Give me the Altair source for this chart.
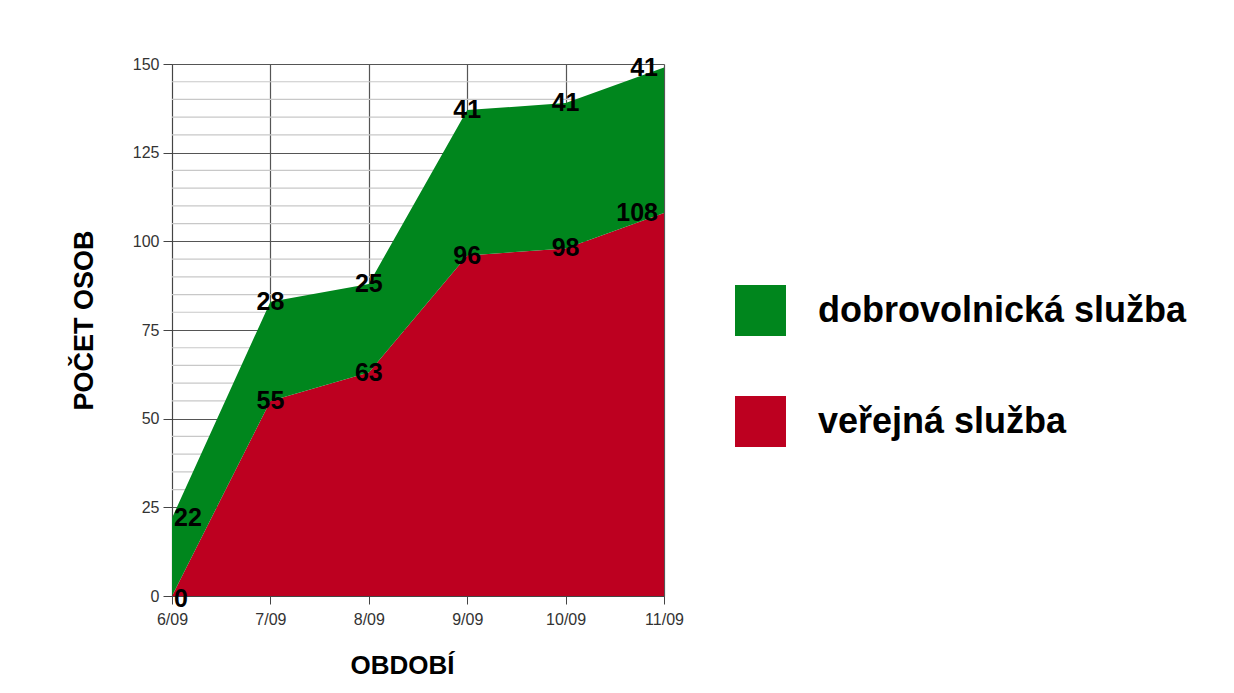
import altair as alt
import pandas as pd

periods = ["6/09", "7/09", "8/09", "9/09", "10/09", "11/09"]
verejna = [0, 55, 63, 96, 98, 108]
dobrovolnicka = [22, 28, 25, 41, 41, 41]
series_names = ["dobrovolnická služba", "veřejná služba"]
series_colors = ["#00861d", "#bd0020"]
y_major = [0, 25, 50, 75, 100, 125, 150]
y_minor = [v for v in range(0, 151, 5) if v % 25 != 0]

rows = []
for i, p in enumerate(periods):
    rows.append(dict(period=p, series="veřejná služba", low=0, high=verejna[i],
                     value=verejna[i], idx=i))
    rows.append(dict(period=p, series="dobrovolnická služba", low=verejna[i],
                     high=verejna[i] + dobrovolnicka[i], value=dobrovolnicka[i], idx=i))
df = pd.DataFrame(rows)
minor_df = pd.DataFrame({"v": y_minor})

FONT = "Liberation Sans"

x_axis = alt.Axis(
    title="OBDOBÍ", labelAngle=0, labelFontSize=16, labelColor="#333333",
    labelFont=FONT, labelPadding=7, tickSize=8, tickColor="#444444",
    domainColor="#444444", gridColor="#555555", gridWidth=1.2, grid=True,
    titleFont=FONT, titleFontSize=26, titleFontWeight="bold", titleColor="#000000",
    titleX=230, titleY=77, titleBaseline="alphabetic", titleAlign="center",
)
y_axis = alt.Axis(
    values=y_major, title="POČET OSOB", labelFontSize=16, labelColor="#333333",
    labelFont=FONT, labelPadding=4, tickSize=9, tickColor="#444444",
    domainColor="#444444", gridColor="#555555", gridWidth=1.2, grid=True,
    titleFont=FONT, titleFontSize=27, titleFontWeight="bold", titleColor="#000000",
    titleX=-80, titleY=256, titleBaseline="alphabetic", titleAlign="center",
    titleAngle=-90,
)
x_scale = alt.Scale(type="point", padding=0)
y_scale = alt.Scale(domain=[0, 150], nice=False)

minor = alt.Chart(minor_df).mark_rule(color="#c8c8c8", strokeWidth=1.2).encode(
    y=alt.Y("v:Q", scale=y_scale, axis=y_axis),
)

area = alt.Chart(df).mark_area(opacity=1, interpolate="linear").encode(
    x=alt.X("period:O", sort=periods, scale=x_scale, axis=x_axis),
    y=alt.Y("high:Q", scale=y_scale, axis=y_axis),
    y2="low:Q",
    color=alt.Color(
        "series:N",
        scale=alt.Scale(domain=series_names, range=series_colors),
        legend=alt.Legend(
            title=None, orient="none", legendX=563, legendY=221, padding=0,
            symbolType="square", symbolSize=2600, symbolStrokeWidth=0, symbolOpacity=1,
            labelFontSize=36, labelFont=FONT, labelFontWeight="bold", labelColor="#000000",
            labelOffset=32, rowPadding=60, labelLimit=600,
        ),
    ),
)

def labels(filter_expr, align, dx, dy):
    return alt.Chart(df).transform_filter(filter_expr).mark_text(
        font=FONT, fontSize=25, fontWeight="bold", color="#000000",
        baseline="middle", align=align, dx=dx, dy=dy,
    ).encode(
        x=alt.X("period:O", sort=periods, scale=x_scale, axis=x_axis),
        y=alt.Y("high:Q", scale=y_scale, axis=y_axis),
        text="value:Q",
    )

chart = alt.layer(
    minor,
    area,
    labels("datum.idx == 0 && datum.value == 0", "left", 2, 3),
    labels("datum.idx == 0 && datum.value > 0", "left", 2, 0),
    labels("datum.idx > 0 && datum.idx < 5", "center", 0, 0),
    labels("datum.idx == 5", "right", -6, 0),
).properties(
    width=492, height=532,
    autosize=alt.AutoSizeParams(type="none"),
    padding={"left": 164, "top": 56, "right": 540, "bottom": 90},
).configure_view(stroke=None).configure(background="#ffffff")

chart.save("out.html", embed_options={"renderer": "svg", "actions": False})
